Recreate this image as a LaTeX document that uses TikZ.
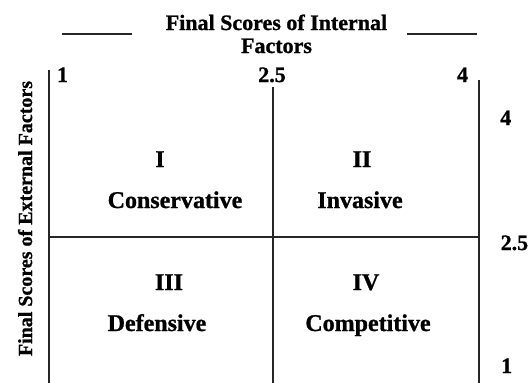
\documentclass[tikz,border=0pt]{standalone}
\usepackage{fontspec}
\setmainfont{Liberation Serif}[BoldFeatures={FakeBold=1}]
\begin{document}
\begin{tikzpicture}[x=1pt,y=-1pt,
  axis/.style={line width=1.4pt,black!85},
  lbl/.style={font=\fontsize{22}{24}\selectfont\bfseries,inner sep=0pt,anchor=base},
  quad/.style={font=\fontsize{24}{26}\selectfont\bfseries,inner sep=0pt,anchor=base}]
\useasboundingbox (0,0) rectangle (531,383);
% title
\node[lbl] (t1) at (276.5,30) {Final Scores of Internal};
\node[lbl] (t2) at (276.5,53) {Factors};
\coordinate (tl1) at (62,34); \coordinate (tl2) at (132,34);
\coordinate (tr1) at (407,34); \coordinate (tr2) at (477,34);
\draw[axis] (tl1) -- (tl2);
\draw[axis] (tr1) -- (tr2);
% top numbers
\node[lbl] (n1) at (62.5,82) {1};
\node[lbl] (n25) at (272,82) {2.5};
\node[lbl] (n4) at (462.5,82) {4};
% right numbers
\node[lbl,anchor=base west] (r4) at (500,125) {4};
\node[lbl,anchor=base west] (r25) at (500.5,250) {2.5};
\node[lbl,anchor=base west] (r1) at (501,373) {1};
% left rotated label
\node[font=\fontsize{20}{22}\selectfont\bfseries,inner sep=0pt,anchor=base,rotate=90] (ylab) at (32,218.5) {Final Scores of External Factors};
% axes
\coordinate (la) at (49,70); \coordinate (lb) at (49,383);
\coordinate (ma) at (273,87); \coordinate (mb) at (273,383);
\coordinate (ra) at (479,80); \coordinate (rb) at (479,383);
\coordinate (ha) at (49,237); \coordinate (hb) at (479,237);
\draw[axis] (la) -- (lb);
\draw[axis] (ma) -- (mb);
\draw[axis] (ra) -- (rb);
\draw[axis] (ha) -- (hb);
% quadrants
\node[quad] (q1) at (160,167) {I};
\node[quad] (q1t) at (175,208) {Conservative};
\node[quad] (q2) at (362,167) {II};
\node[quad] (q2t) at (360,208) {Invasive};
\node[quad] (q3) at (169,290) {III};
\node[quad] (q3t) at (157,331) {Defensive};
\node[quad] (q4) at (366,290) {IV};
\node[quad] (q4t) at (368,331) {Competitive};
\end{tikzpicture}
\end{document}
